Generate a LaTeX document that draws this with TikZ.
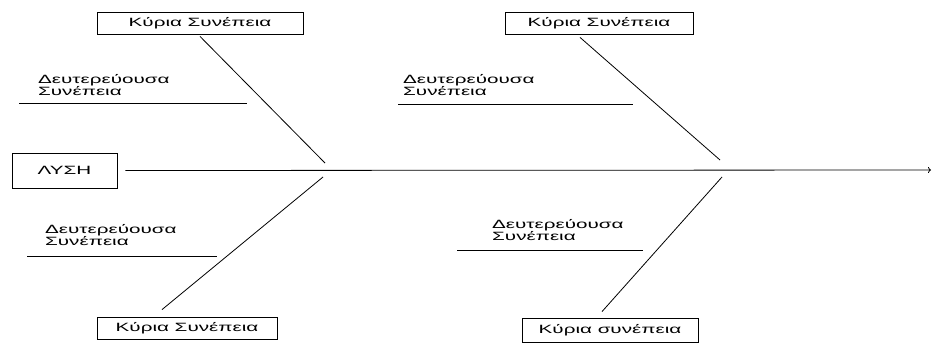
\documentclass[tikz,border=0pt]{standalone}
\usepackage{fontspec}
\setmainfont{Liberation Sans}
\usepackage{graphicx}
\usetikzlibrary{arrows.meta}
\newcommand{\wide}[1]{\scalebox{1.72}[1]{#1}}

\begin{document}
\begin{tikzpicture}[x=1pt, y=-1pt,
    cause/.style={draw, line width=0.8pt, inner sep=0pt, font=\fontsize{12}{12}\selectfont},
    sub/.style={align=left, inner sep=0pt, anchor=north west, font=\fontsize{12}{12}\selectfont},
    bone/.style={line width=0.8pt}]
    \useasboundingbox (0,0) rectangle (932,351);

    % Solution and spine
    \node[cause, minimum width=105pt, minimum height=35pt] (solution) at (64.5,170.5) {\wide{ΛΥΣΗ}\hspace{14pt}};
    \coordinate (head) at (931,170);
    \draw[bone, -{To[length=3pt, width=6pt]}] ([xshift=8pt]solution.east) -- (head);

    % Main causes, left
    \node[cause, minimum width=206pt, minimum height=22pt] (mainA) at (200,23) {\wide{Κύρια Συνέπεια}};
    \node[cause, minimum width=180pt, minimum height=22pt] (mainC) at (187,328) {\wide{Κύρια Συνέπεια}};
    \coordinate (jointA) at (325,163);
    \coordinate (jointC) at (323,177);
    \draw[bone] ([yshift=-2pt]mainA.south) -- (jointA);
    \draw[bone] ([xshift=-25pt, yshift=7pt]mainC.north) -- (jointC);

    % Main causes, right
    \node[cause, minimum width=188pt, minimum height=22pt] (mainB) at (599,23) {\wide{Κύρια Συνέπεια}};
    \node[cause, minimum width=176pt, minimum height=24pt] (mainD) at (610,330) {\wide{Κύρια συνέπεια}};
    \coordinate (jointB) at (720,160);
    \coordinate (jointD) at (722,177);
    \draw[bone] ([xshift=-19pt, yshift=-3pt]mainB.south) -- (jointB);
    \draw[bone] ([xshift=-8pt, yshift=6pt]mainD.north) -- (jointD);

    % Secondary causes
    \node[sub] (subA) at (38,74) {\wide{Δευτερεύουσα}\\\wide{Συνέπεια}};
    \coordinate (subAl) at (19,103);
    \coordinate (subAr) at (247,103);
    \draw[bone] (subAl) -- (subAr);

    \node[sub] (subB) at (403,74) {\wide{Δευτερεύουσα}\\\wide{Συνέπεια}};
    \coordinate (subBl) at (398,104);
    \coordinate (subBr) at (633,104);
    \draw[bone] (subBl) -- (subBr);

    \node[sub] (subC) at (45,224) {\wide{Δευτερεύουσα}\\\wide{Συνέπεια}};
    \coordinate (subCl) at (27,256);
    \coordinate (subCr) at (217,256);
    \draw[bone] (subCl) -- (subCr);

    \node[sub] (subD) at (492,219) {\wide{Δευτερεύουσα}\\\wide{Συνέπεια}};
    \coordinate (subDl) at (457,250);
    \coordinate (subDr) at (643,250);
    \draw[bone] (subDl) -- (subDr);
\end{tikzpicture}
\end{document}
